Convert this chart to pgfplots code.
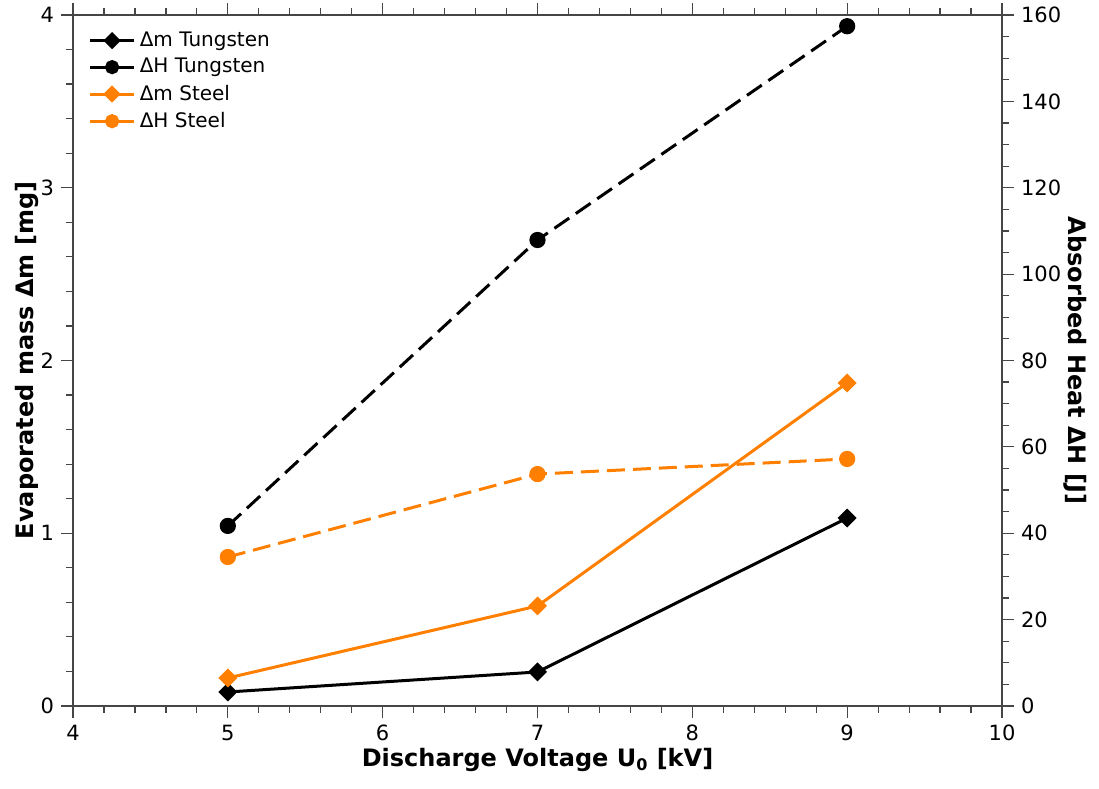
\documentclass[border=0pt]{standalone}
\usepackage{pgfplots}
\pgfplotsset{compat=1.18}
\usepackage{fontspec}
\setmainfont{DejaVu Sans}
\definecolor{myorange}{RGB}{255,128,0}
\definecolor{axgray}{RGB}{70,70,70}
\begin{document}
\begin{tikzpicture}
\pgfplotsset{
  common/.style={
    scale only axis, width=464.5pt, height=345.5pt,
    xmin=4, xmax=10,
    tick style={axgray, line width=0.6pt},
    axis line style={axgray, line width=0.8pt},
    major tick length=6pt, minor tick length=3.5pt,
    tick align=outside,
    ticklabel style={font=\fontsize{10.5}{12}\selectfont},
    /pgf/number format/assume math mode=true,
    label style={font=\bfseries\fontsize{12}{14}\selectfont},
  }
}
\begin{axis}[common,
  axis y line*=left, axis x line*=box,
  ymin=0, ymax=4, ytick={0,1,2,3,4},
  minor y tick num=4, minor x tick num=4,
  xtick={4,5,...,10},
  xtick pos=both,
  xlabel={Discharge Voltage U\textsubscript{0} [kV]},
  ylabel={Evaporated mass Δm [mg]},
  xlabel style={yshift=3pt},
  ylabel style={yshift=-6pt},
]
\coordinate (ll) at (rel axis cs:0,0);
\coordinate (ur) at (rel axis cs:1,1);
\addplot[black, line width=1.5pt, mark=square*, mark size=2.6pt, mark options={solid, rotate=45}] coordinates {(5,0.081) (7,0.197) (9,1.088)};
\addplot[myorange, line width=1.5pt, mark=square*, mark size=2.6pt, mark options={solid, rotate=45}] coordinates {(5,0.162) (7,0.579) (9,1.87)};
\end{axis}
\begin{axis}[common,
  axis y line*=right, axis x line=none,
  ymin=0, ymax=160, ytick={0,20,...,160},
  minor y tick num=3,
  ylabel={Absorbed Heat ΔH [J]},
  ylabel style={rotate=180, yshift=-5.5pt},
  legend style={at={(0.014,0.985)}, anchor=north west, draw=none, fill=none,
    font=\fontsize{10}{12}\selectfont, row sep=0.5pt, inner sep=1pt},
  legend cell align=left,
  legend image post style={line width=1.5pt},
  legend image code/.code={
    \draw[#1, solid] (0cm,0cm) -- (0.78cm,0cm);
    \draw[#1, solid, mark repeat=1] plot coordinates {(0.39cm,0cm)};
  },
]
\addlegendimage{black, mark=square*, mark size=2.3pt, mark options={rotate=45}}
\addlegendentry{Δm Tungsten}
\addlegendimage{black, mark=*, mark size=2.8pt}
\addlegendentry{ΔH Tungsten}
\addlegendimage{myorange, mark=square*, mark size=2.3pt, mark options={rotate=45}}
\addlegendentry{Δm Steel}
\addlegendimage{myorange, mark=*, mark size=2.8pt}
\addlegendentry{ΔH Steel}
\addplot[forget plot, black, line width=1.5pt, dash pattern=on 9pt off 4pt, mark=*, mark size=3.3pt, mark options={solid}] coordinates {(5,41.7) (7,107.9) (9,157.4)};
\addplot[forget plot, myorange, line width=1.5pt, dash pattern=on 9pt off 4pt, mark=*, mark size=3.3pt, mark options={solid}] coordinates {(5,34.5) (7,53.7) (9,57.2)};
\end{axis}
\pgfresetboundingbox
\path[use as bounding box] ([xshift=-36.5pt,yshift=-41.5pt]ll) rectangle ([xshift=48.5pt,yshift=7.5pt]ur);
\end{tikzpicture}
\end{document}
